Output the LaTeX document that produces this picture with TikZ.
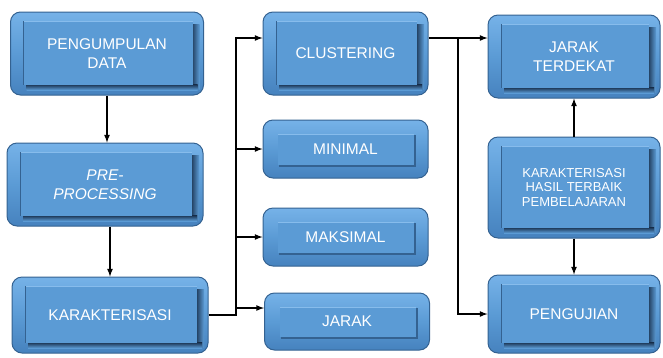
\documentclass[tikz,border=0pt]{standalone}
\usepackage{fontspec}
\setmainfont{Liberation Sans}
\usetikzlibrary{calc}

\definecolor{blokisi}{RGB}{91,155,213}
\definecolor{blokatas}{RGB}{118,178,232}
\definecolor{blokbawah}{RGB}{70,130,190}
\definecolor{bloktepi}{RGB}{52,98,145}
\definecolor{blokterang}{RGB}{135,188,236}
\definecolor{bayang}{RGB}{22,44,72}

\tikzset{
	blok/.style = {rectangle, rounded corners = 10pt, draw = bloktepi, line width = 1pt,
		top color = blokatas, bottom color = blokbawah, middle color = blokisi,
		text = white, align = center, inner sep = 0pt,
		font = \fontsize{15.5}{19}\selectfont},
	besar/.style = {blok, path picture = {
		\coordinate (pk) at ([shift = {(13pt, -9pt)}] path picture bounding box.north west);
		\coordinate (pb) at ([shift = {(-11pt, 10pt)}] path picture bounding box.south east);
		\shade [sharp corners, left color = bayang, right color = blokisi] ($(pk -| pb) + (-2pt, -3pt)$) rectangle ($(pb) + (7pt, -4pt)$);
		\shade [sharp corners, top color = bayang, bottom color = blokisi] ($(pk |- pb) + (3pt, 1pt)$) rectangle ($(pb) + (5pt, -5pt)$);
		\fill [sharp corners, blokisi] (pk) rectangle (pb);
		\draw [sharp corners, blokterang, line width = 1pt] (pk) -- (pk -| pb);
		\draw [sharp corners, bloktepi, line width = 0.8pt] (pk) -- (pk |- pb);
	}},
	kecil/.style = {blok, path picture = {
		\coordinate (pk) at ([shift = {(15pt, -14pt)}] path picture bounding box.north west);
		\coordinate (pb) at ([shift = {(-14pt, 13pt)}] path picture bounding box.south east);
		\fill [sharp corners, bloktepi] ($(pk) + (1pt, -1pt)$) rectangle ($(pb) + (2pt, -2pt)$);
		\fill [sharp corners, blokisi] (pk) rectangle (pb);
		\draw [sharp corners, blokterang, line width = 0.8pt] (pk) -- (pk -| pb);
	}},
}

\begin{document}

\begin{tikzpicture}[> = latex, x = 1pt, y = -1pt, line width = 1.6pt]

	\useasboundingbox (0, 0) rectangle (663, 357);

	% Left column

	\node [besar, minimum width = 193pt, minimum height = 83pt] (kumpul) at (107, 53.5) {PENGUMPULAN\\DATA};
	\node [besar, minimum width = 196pt, minimum height = 83pt] (proses) at (105, 184.5) {\textit{PRE-}\\\textit{PROCESSING}};
	\node [besar, minimum width = 196pt, minimum height = 76pt] (karakter) at (110, 315) {KARAKTERISASI};

	% Middle column

	\node [besar, minimum width = 165pt, minimum height = 83pt] (cluster) at (345.5, 53.5) {CLUSTERING};
	\node [kecil, minimum width = 165pt, minimum height = 58pt] (minimal) at (345.5, 149) {MINIMAL};
	\node [kecil, minimum width = 165pt, minimum height = 58pt] (maksimal) at (345.5, 237) {MAKSIMAL};
	\node [kecil, minimum width = 165pt, minimum height = 57pt] (jarak) at (347, 321.5) {JARAK};

	% Right column

	\node [besar, minimum width = 172pt, minimum height = 83pt] (terdekat) at (574, 56.5) {JARAK\\TERDEKAT};
	\node [besar, minimum width = 172pt, minimum height = 101pt, font = \fontsize{13}{14.5}\selectfont] (hasil) at (574, 187.5) {KARAKTERISASI\\HASIL TERBAIK\\PEMBELAJARAN};
	\node [besar, minimum width = 172pt, minimum height = 78pt] (uji) at (574, 314) {PENGUJIAN};

	% Trunk lines

	\coordinate (kiri) at (236, 0);
	\coordinate (kanan) at (458, 0);

	% Left column arrows

	\draw [->] (kumpul.south) -- (kumpul.south |- proses.north);
	\draw [->] (karakter.north |- proses.south) -- (karakter.north);

	% Karakterisasi to the middle column

	\draw [->] (karakter.east) -- (karakter.east -| kiri) |- ([yshift = 15.5pt] cluster.west);
	\draw [->] (minimal.west -| kiri) -- (minimal.west);
	\draw [->] (maksimal.west -| kiri) -- (maksimal.west);
	\draw [->] ([yshift = 13.5pt] jarak.west -| kiri) -- ([yshift = 13.5pt] jarak.west);

	% Clustering to the right column

	\draw [->] ([yshift = 15.5pt] cluster.east) -- ([yshift = 15.5pt] cluster.east -| terdekat.west);
	\draw [->] ([yshift = 15.5pt] cluster.east -| kanan) |- (uji.west);
	\draw [->] (hasil.north) -- (terdekat.south);
	\draw [->] (hasil.south) -- (uji.north);

\end{tikzpicture}

\end{document}
